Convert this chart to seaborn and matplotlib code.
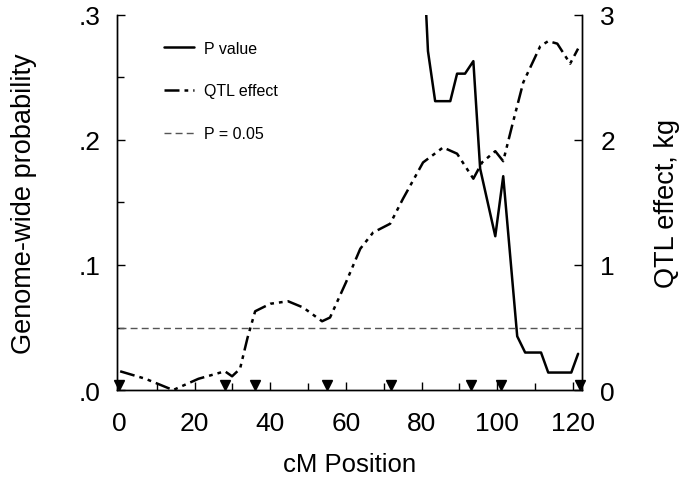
import numpy as np
import pandas as pd
import matplotlib
matplotlib.use("Agg")
import matplotlib.pyplot as plt
import seaborn as sns
from matplotlib.lines import Line2D
from matplotlib.ticker import MultipleLocator, FuncFormatter

# P value curve (genome-wide probability), starts above the top of the axis
p_pos = [80.3, 81.7, 83.6, 87.6, 89.4, 91.5, 93.7, 95.5, 99.5, 101.6,
         105.3, 107.4, 111.6, 113.5, 119.6, 121.4]
p_val = [0.36, 0.271, 0.231, 0.231, 0.253, 0.253, 0.263, 0.177, 0.123, 0.171,
         0.043, 0.030, 0.030, 0.014, 0.014, 0.029]

# QTL effect curve, kg
q_pos = [0.3, 7, 14.3, 21, 28, 29.9, 32, 34, 36, 40, 44.7, 48.7, 53.7, 55.8,
         60, 63.8, 67.2, 71.7, 75.1, 80.4, 85.7, 89.4, 93.7, 96, 99.5, 101.6,
         104, 106.9, 111.4, 113.5, 115.9, 119.3, 121.4]
q_eff = [0.15, 0.09, 0.0, 0.09, 0.15, 0.11, 0.17, 0.42, 0.63, 0.69, 0.71, 0.66,
         0.55, 0.58, 0.86, 1.13, 1.26, 1.33, 1.53, 1.82, 1.94, 1.89, 1.69, 1.82,
         1.91, 1.83, 2.12, 2.46, 2.75, 2.79, 2.77, 2.61, 2.73]

# marker positions along the chromosome
markers = [0, 28, 36, 55, 72, 93, 101, 122]

threshold = 0.05

sns.set_style("ticks", {"axes.edgecolor": "black", "text.color": "black",
                        "xtick.color": "black", "ytick.color": "black",
                        "axes.labelcolor": "black"})
plt.rcParams["font.family"] = ["Liberation Sans", "DejaVu Sans"]

fig = plt.figure(figsize=(6.81, 4.81), dpi=100)
ax = fig.add_axes([0.172, 0.187, 0.683, 0.780])
ax2 = ax.twinx()

df_p = pd.DataFrame({"pos": p_pos, "val": p_val})
df_q = pd.DataFrame({"pos": q_pos, "eff": q_eff})

dashdot = (0, (6, 2, 1.5, 2, 1.5, 2))

sns.lineplot(data=df_p, x="pos", y="val", ax=ax, color="black", lw=1.8,
             sort=False, legend=False)
sns.lineplot(data=df_q, x="pos", y="eff", ax=ax2, color="black", lw=1.8,
             sort=False, legend=False)
ax2.lines[0].set_linestyle(dashdot)

ax.axhline(threshold, xmin=0.004, xmax=1, color="#555555", lw=1.0,
           ls=(0, (5, 3)))

ax.plot(markers, [0.004] * len(markers), ls="none", marker="v",
        ms=7.5, color="black", clip_on=False, zorder=5)

ax.set_xlim(-0.5, 122.5)
ax.set_ylim(0, 0.3)
ax2.set_ylim(0, 3)

ax.xaxis.set_major_locator(MultipleLocator(20))
ax.xaxis.set_minor_locator(MultipleLocator(10))
ax.yaxis.set_major_locator(MultipleLocator(0.1))
ax.yaxis.set_minor_locator(MultipleLocator(0.05))
ax.yaxis.set_major_formatter(FuncFormatter(lambda v, _: f"{v:.1f}"[1:]))
ax2.yaxis.set_major_locator(MultipleLocator(1))

for a in (ax, ax2):
    a.spines["top"].set_visible(False)
    a.tick_params(which="both", direction="in", length=6, width=1,
                  labelsize=19, color="black", labelcolor="black")
    a.tick_params(which="minor", length=5)
    for s in a.spines.values():
        s.set_linewidth(1.0)
        s.set_color("black")
ax.tick_params(axis="x", pad=15)
ax.tick_params(axis="y", pad=12)
ax2.tick_params(axis="y", pad=13)

ax.set_xlabel("cM Position", fontsize=18.5, labelpad=12, color="black")
ax.set_ylabel("Genome-wide probability", fontsize=19.5, labelpad=30,
              color="black")
ax2.set_ylabel("QTL effect, kg", fontsize=19.5, labelpad=28, color="black")

handles = [
    Line2D([], [], color="black", lw=1.8),
    Line2D([], [], color="black", lw=1.8, ls=dashdot),
    Line2D([], [], color="#555555", lw=1.0, ls=(0, (5, 3))),
]
ax.legend(handles, ["P value", "QTL effect", "P = 0.05"], loc="upper left",
          bbox_to_anchor=(0.069, 0.97), frameon=False, fontsize=11.5,
          labelspacing=1.75, handlelength=1.9, handletextpad=0.6,
          labelcolor="black")

fig.savefig("out.png", dpi=100)
